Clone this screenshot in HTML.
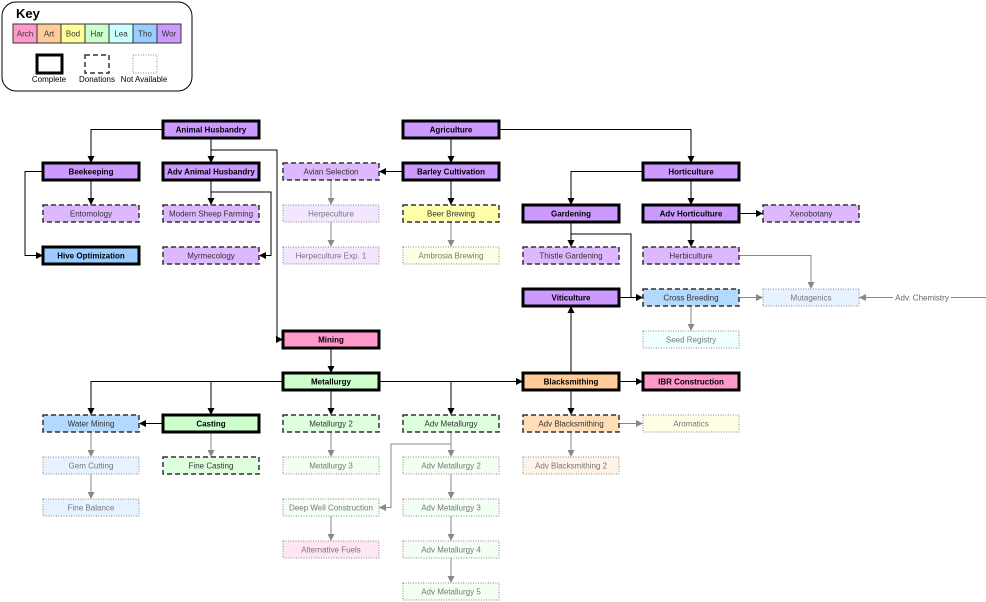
<!DOCTYPE html>
<html><head><style>body{margin:0;background:#fff}svg{display:block}text{font-family:"Liberation Sans",sans-serif}</style></head><body>
<svg width="986" height="602" viewBox="0 0 986 602" xmlns="http://www.w3.org/2000/svg">
<defs>
<marker id="ab" viewBox="0 0 10 10" refX="10" refY="5" markerWidth="7" markerHeight="7" orient="auto"><path d="M0,0L10,5L0,10z" fill="#000"/></marker>
<marker id="ag" viewBox="0 0 10 10" refX="10" refY="5" markerWidth="7" markerHeight="7" orient="auto"><path d="M0,0L10,5L0,10z" fill="#888"/></marker>
</defs>
<!-- Key -->
<rect x="2" y="2" width="190" height="89" rx="14" fill="#fff" stroke="#000" stroke-width="1"/>
<text x="16" y="18" font-size="13" font-weight="bold">Key</text>
<g font-size="8" text-anchor="middle" fill="#333">
<rect x="13" y="24" width="24" height="19" fill="#ff99cc" stroke="#333"/><text x="25" y="36.5">Arch</text>
<rect x="37" y="24" width="24" height="19" fill="#ffcc99" stroke="#333"/><text x="49" y="36.5">Art</text>
<rect x="61" y="24" width="24" height="19" fill="#ffff99" stroke="#333"/><text x="73" y="36.5">Bod</text>
<rect x="85" y="24" width="24" height="19" fill="#ccffcc" stroke="#333"/><text x="97" y="36.5">Har</text>
<rect x="109" y="24" width="24" height="19" fill="#ccffff" stroke="#333"/><text x="121" y="36.5">Lea</text>
<rect x="133" y="24" width="24" height="19" fill="#99ccff" stroke="#333"/><text x="145" y="36.5">Tho</text>
<rect x="157" y="24" width="24" height="19" fill="#cc99ff" stroke="#333"/><text x="169" y="36.5">Wor</text>
<rect x="37" y="55" width="25" height="18" fill="#fff" stroke="#000" stroke-width="3"/>
<rect x="85" y="55" width="24" height="18" fill="#fff" stroke="#333" stroke-width="1.5" stroke-dasharray="5,3"/>
<rect x="133" y="55" width="24" height="18" fill="#fff" stroke="#888" stroke-width="1" stroke-dasharray="1,1.5"/>
<text x="49" y="82" fill="#000">Complete</text><text x="97" y="82" fill="#000">Donations</text><text x="144" y="82" fill="#000">Not Available</text>
</g>
<!-- Edges black -->
<g fill="none" stroke="#000" stroke-width="1" marker-end="url(#ab)">
<path d="M163,129.5H91V163"/>
<path d="M211,138V163"/>
<path d="M211,150H277V339.5H283"/>
<path d="M91,180V205"/>
<path d="M43,171.5H25V255.5H43"/>
<path d="M211,180V205"/>
<path d="M211,192H271V255.5H259"/>
<path d="M451,138V163"/>
<path d="M499,129.5H691V163"/>
<path d="M403,171.5H379"/>
<path d="M451,180V205"/>
<path d="M643,171.5H571V205"/>
<path d="M691,180V205"/>
<path d="M571,222V247"/>
<path d="M571,234H631V297.5H643"/>
<path d="M739,213.5H763"/>
<path d="M691,222V247"/>
<path d="M619,297.5H643"/>
<path d="M571,373V306"/>
<path d="M331,348V373"/>
<path d="M283,381.5H91V415"/>
<path d="M211,381.5V415"/>
<path d="M331,390V415"/>
<path d="M379,381.5H451V415"/>
<path d="M379,381.5H523"/>
<path d="M619,381.5H643"/>
<path d="M571,390V415"/>
<path d="M163,423.5H139"/>
</g>
<!-- Edges grey -->
<g fill="none" stroke="#888" stroke-width="1" marker-end="url(#ag)">
<path d="M331,180V205"/><path d="M331,222V247"/><path d="M451,222V247"/>
<path d="M739,255.5H811V289"/>
<path d="M739,297.5H763"/>
<path d="M691,306V331"/>
<path d="M986,297.5H859"/>
<path d="M91,432V457"/><path d="M91,474V499"/>
<path d="M211,432V457"/>
<path d="M331,432V457"/>
<path d="M451,432V457"/>
<path d="M451,444H391V507.5H379"/>
<path d="M451,474V499"/><path d="M451,516V541"/><path d="M451,558V583"/>
<path d="M331,516V541"/>
<path d="M619,423.5H643"/>
<path d="M571,432V457"/>
</g>
<rect x="893" y="291" width="58" height="12" fill="#fff"/>
<text x="922" y="300.5" font-size="8" text-anchor="middle" fill="#666">Adv. Chemistry</text>
<!-- Nodes -->
<g font-size="8" text-anchor="middle">
<!-- complete -->
<g stroke="#000" stroke-width="3" font-weight="bold" fill="#000">
<rect x="163" y="121" width="96" height="17" fill="#cc99ff"/><text x="211" y="132.5" stroke="none">Animal Husbandry</text>
<rect x="403" y="121" width="96" height="17" fill="#cc99ff"/><text x="451" y="132.5" stroke="none">Agriculture</text>
<rect x="43" y="163" width="96" height="17" fill="#cc99ff"/><text x="91" y="174.5" stroke="none">Beekeeping</text>
<rect x="163" y="163" width="96" height="17" fill="#cc99ff"/><text x="211" y="174.5" stroke="none">Adv Animal Husbandry</text>
<rect x="403" y="163" width="96" height="17" fill="#cc99ff"/><text x="451" y="174.5" stroke="none">Barley Cultivation</text>
<rect x="643" y="163" width="96" height="17" fill="#cc99ff"/><text x="691" y="174.5" stroke="none">Horticulture</text>
<rect x="523" y="205" width="96" height="17" fill="#cc99ff"/><text x="571" y="216.5" stroke="none">Gardening</text>
<rect x="643" y="205" width="96" height="17" fill="#cc99ff"/><text x="691" y="216.5" stroke="none">Adv Horticulture</text>
<rect x="43" y="247" width="96" height="17" fill="#99ccff"/><text x="91" y="258.5" stroke="none">Hive Optimization</text>
<rect x="523" y="289" width="96" height="17" fill="#cc99ff"/><text x="571" y="300.5" stroke="none">Viticulture</text>
<rect x="283" y="331" width="96" height="17" fill="#ff99cc"/><text x="331" y="342.5" stroke="none">Mining</text>
<rect x="283" y="373" width="96" height="17" fill="#ccffcc"/><text x="331" y="384.5" stroke="none">Metallurgy</text>
<rect x="523" y="373" width="96" height="17" fill="#ffcc99"/><text x="571" y="384.5" stroke="none">Blacksmithing</text>
<rect x="643" y="373" width="96" height="17" fill="#ff99cc"/><text x="691" y="384.5" stroke="none">IBR Construction</text>
<rect x="163" y="415" width="96" height="17" fill="#ccffcc"/><text x="211" y="426.5" stroke="none">Casting</text>
</g>
<!-- donations -->
<g stroke="#333" stroke-width="1.5" stroke-dasharray="5,3" fill="#333">
<rect x="283" y="163" width="96" height="17" fill="#ddb8ff"/><text x="331" y="174.5" stroke="none">Avian Selection</text>
<rect x="43" y="205" width="96" height="17" fill="#ddb8ff"/><text x="91" y="216.5" stroke="none">Entomology</text>
<rect x="163" y="205" width="96" height="17" fill="#ddb8ff"/><text x="211" y="216.5" stroke="none">Modern Sheep Farming</text>
<rect x="403" y="205" width="96" height="17" fill="#ffffaa"/><text x="451" y="216.5" stroke="none">Beer Brewing</text>
<rect x="763" y="205" width="96" height="17" fill="#ddb8ff"/><text x="811" y="216.5" stroke="none">Xenobotany</text>
<rect x="163" y="247" width="96" height="17" fill="#ddb8ff"/><text x="211" y="258.5" stroke="none">Myrmecology</text>
<rect x="523" y="247" width="96" height="17" fill="#ddb8ff"/><text x="571" y="258.5" stroke="none">Thistle Gardening</text>
<rect x="643" y="247" width="96" height="17" fill="#ddb8ff"/><text x="691" y="258.5" stroke="none">Herbiculture</text>
<rect x="643" y="289" width="96" height="17" fill="#b3d9ff"/><text x="691" y="300.5" stroke="none">Cross Breeding</text>
<rect x="43" y="415" width="96" height="17" fill="#b3d9ff"/><text x="91" y="426.5" stroke="none">Water Mining</text>
<rect x="283" y="415" width="96" height="17" fill="#ddffdd"/><text x="331" y="426.5" stroke="none">Metallurgy 2</text>
<rect x="403" y="415" width="96" height="17" fill="#ddffdd"/><text x="451" y="426.5" stroke="none">Adv Metallurgy</text>
<rect x="523" y="415" width="96" height="17" fill="#ffddb8"/><text x="571" y="426.5" stroke="none">Adv Blacksmithing</text>
<rect x="163" y="457" width="96" height="17" fill="#ddffdd"/><text x="211" y="468.5" stroke="none">Fine Casting</text>
</g>
<!-- not available -->
<g stroke="#888" stroke-width="1" stroke-dasharray="1,1.5" fill="#777">
<rect x="283" y="205" width="96" height="17" fill="#f3e6ff"/><text x="331" y="216.5" stroke="none">Herpeculture</text>
<rect x="283" y="247" width="96" height="17" fill="#f3e6ff"/><text x="331" y="258.5" stroke="none">Herpeculture Exp. 1</text>
<rect x="403" y="247" width="96" height="17" fill="#ffffe6"/><text x="451" y="258.5" stroke="none">Ambrosia Brewing</text>
<rect x="763" y="289" width="96" height="17" fill="#e6f2ff"/><text x="811" y="300.5" stroke="none">Mutagenics</text>
<rect x="643" y="331" width="96" height="17" fill="#f0ffff"/><text x="691" y="342.5" stroke="none">Seed Registry</text>
<rect x="643" y="415" width="96" height="17" fill="#ffffe6"/><text x="691" y="426.5" stroke="none">Aromatics</text>
<rect x="43" y="457" width="96" height="17" fill="#e6f2ff"/><text x="91" y="468.5" stroke="none">Gem Cutting</text>
<rect x="283" y="457" width="96" height="17" fill="#f3fff3"/><text x="331" y="468.5" stroke="none">Metallurgy 3</text>
<rect x="403" y="457" width="96" height="17" fill="#f3fff3"/><text x="451" y="468.5" stroke="none">Adv Metallurgy 2</text>
<rect x="523" y="457" width="96" height="17" fill="#fff2e6"/><text x="571" y="468.5" stroke="none">Adv Blacksmithing 2</text>
<rect x="43" y="499" width="96" height="17" fill="#e6f2ff"/><text x="91" y="510.5" stroke="none">Fine Balance</text>
<rect x="283" y="499" width="96" height="17" fill="#f3fff3"/><text x="331" y="510.5" stroke="none">Deep Well Construction</text>
<rect x="403" y="499" width="96" height="17" fill="#f3fff3"/><text x="451" y="510.5" stroke="none">Adv Metallurgy 3</text>
<rect x="283" y="541" width="96" height="17" fill="#ffe6f2"/><text x="331" y="552.5" stroke="none">Alternative Fuels</text>
<rect x="403" y="541" width="96" height="17" fill="#f3fff3"/><text x="451" y="552.5" stroke="none">Adv Metallurgy 4</text>
<rect x="403" y="583" width="96" height="17" fill="#f3fff3"/><text x="451" y="594.5" stroke="none">Adv Metallurgy 5</text>
</g>
</g>
</svg>
</body></html>
